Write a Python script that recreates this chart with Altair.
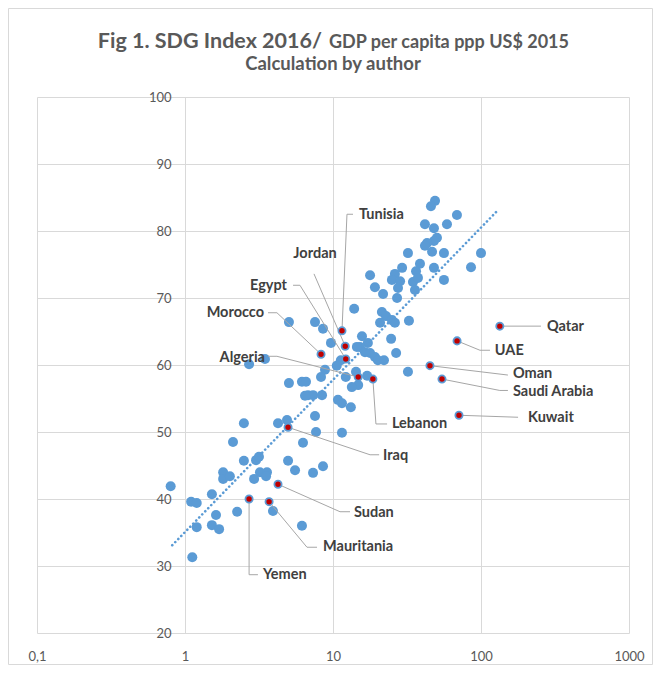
import altair as alt
import pandas as pd

# ---------------- data ----------------
# GDP per capita ppp (thousand US$ 2015) and SDG Index 2016, non-Arab countries
other_gdp = [48.9, 45.9, 68.8, 41.8, 48.1, 58.9, 50.4, 48.1, 43.2, 41.8, 46.7, 56.2, 100, 32.1, 85.6,
             48.1, 38.7, 36.4, 29.3, 26.2, 17.8, 19.2, 21.8, 25.0, 28.4, 27.5, 34.7, 37.5, 35.8, 56.2, 27.1,
             13.9, 21.4, 22.8, 25.0, 20.8, 26.2, 32.6, 5.04, 7.56, 8.56, 15.7, 24.7, 17.2, 15.2, 9.69, 14.5,
             16.45, 17.8, 19.2, 20.1, 22.1, 26.7, 11.3, 10.6, 3.47, 2.71, 8.83, 8.30, 5.04, 6.17, 6.57, 12.2,
             14.3, 17.0, 14.8, 13.4, 6.78, 7.33, 8.43, 6.47, 10.8, 11.5, 13.2, 7.56, 32.1,
             2.50, 4.25, 4.89, 7.68, 11.5, 2.11, 6.27, 2.50, 3.02, 3.16, 4.97, 5.54, 7.33, 8.56, 1.81, 1.81,
             2.01, 3.21, 3.58, 3.53, 2.93, 0.80, 1.52, 1.10, 1.20, 3.93, 2.25, 1.62, 1.20, 1.52, 1.70, 6.17, 1.12]
other_sdg = [84.5, 83.7, 82.4, 81.0, 80.4, 81.0, 79.0, 78.5, 78.2, 77.8, 76.9, 76.7, 76.7, 76.7, 74.6,
             74.5, 75.1, 74.0, 74.5, 73.6, 73.4, 71.6, 70.6, 72.7, 72.5, 71.5, 72.4, 73.0, 71.2, 72.7, 70.0,
             68.4, 67.9, 67.3, 66.7, 66.3, 66.3, 66.6, 66.4, 66.4, 65.4, 64.3, 63.9, 63.3, 62.7, 63.3, 62.7,
             61.9, 61.8, 61.2, 60.7, 60.7, 61.8, 60.7, 59.9, 60.9, 60.1, 59.3, 58.2, 57.3, 57.5, 57.5, 58.2,
             59.0, 58.4, 57.0, 56.7, 55.5, 55.5, 55.5, 55.4, 54.8, 54.3, 53.7, 52.4, 59.0,
             51.3, 51.3, 51.8, 50.0, 49.9, 48.5, 48.4, 45.7, 45.8, 46.3, 45.7, 44.3, 43.9, 44.9, 44.0, 43.0,
             43.4, 44.0, 44.0, 43.4, 43.0, 41.9, 40.7, 39.6, 39.4, 38.2, 38.1, 37.6, 35.8, 36.1, 35.5, 36.0, 31.3]

# Arab countries (highlighted)
arab_names = ["Tunisia", "Jordan", "Egypt", "Morocco", "Algeria", "Lebanon", "Iraq", "Sudan",
              "Mauritania", "Yemen", "Qatar", "UAE", "Oman", "Saudi Arabia", "Kuwait"]
arab_gdp = [11.5, 12.1, 12.2, 8.3, 14.8, 18.6, 4.97, 4.25, 3.7, 2.71, 134, 68.9, 45.2, 54.5, 71]
arab_sdg = [65.1, 62.8, 60.9, 61.6, 58.2, 57.9, 50.7, 42.2, 39.6, 40.0, 65.8, 63.6, 59.9, 57.9, 52.5]

# data-label anchors (in data units) and alignment
label_gdp = [14.98, 7.56, 4.89, 3.42, 3.47, 25.0, 21.8, 13.87, 8.56, 3.37, 279, 124, 164.5, 164.5, 208]
label_sdg = [82.4, 76.6, 71.8, 67.8, 61.0, 51.2, 46.4, 37.9, 32.8, 28.6, 65.7, 62.1, 58.6, 55.95, 52.1]
label_align = ["left", "center", "right", "right", "right", "left", "left", "left",
               "left", "left", "left", "left", "left", "left", "left"]

# leader lines: dot -> bend -> end (data units)
bend_gdp = [12.43, 7.44, 5.98, 4.18, 4.18, 19.5, 17.8, 11.15, 6.67, 2.71, 254, 98.4, 152, 134, 178]
bend_sdg = [82.5, 73.6, 71.9, 67.8, 61.3, 51.2, 46.6, 38.1, 32.8, 28.7, 65.8, 62.2, 58.5, 56.2, 52.2]
end_gdp = [13.65, 7.44, 5.37, 3.64, 3.64, 23.2, 20.5, 13.03, 7.80, 3.11, 254, 115, 152, 152, 178]
end_sdg = [82.5, 73.6, 71.9, 67.8, 61.3, 51.2, 46.6, 38.1, 32.8, 28.7, 65.8, 62.2, 58.5, 56.2, 52.2]

# logarithmic trend line end points
trend_gdp = [0.82, 130]
trend_sdg = [33.1, 83.1]

x_ticks = [0.1, 1, 10, 100, 1000]
y_ticks = [20, 30, 40, 50, 60, 70, 80, 90, 100]

# ---------------- tables ----------------
others = pd.DataFrame({"gdp": other_gdp, "sdg": other_sdg})
arab = pd.DataFrame({"name": arab_names, "gdp": arab_gdp, "sdg": arab_sdg})
labels = pd.DataFrame({"name": arab_names, "gdp": label_gdp, "sdg": label_sdg, "align": label_align})
rows = []
for i, n in enumerate(arab_names):
    rows.append({"name": n, "o": 0, "gdp": arab_gdp[i], "sdg": arab_sdg[i]})
    rows.append({"name": n, "o": 1, "gdp": bend_gdp[i], "sdg": bend_sdg[i]})
    rows.append({"name": n, "o": 2, "gdp": end_gdp[i], "sdg": end_sdg[i]})
leaders = pd.DataFrame(rows)
trend = pd.DataFrame({"gdp": trend_gdp, "sdg": trend_sdg})

# ---------------- styling ----------------
BLUE = "#5B9BD5"
RED = "#C00000"
GRID = "#D9D9D9"
TXT = "#595959"
FONT = "Lato"

xs = alt.Scale(type="log", domain=[0.1, 1000], nice=False)
ys = alt.Scale(domain=[20, 100], nice=False)
x_axis = alt.Axis(values=x_ticks, grid=True, gridColor=GRID, domain=False, ticks=False,
                  labelPadding=17, labelFont=FONT, labelFontSize=13, labelColor=TXT,
                  labelExpr="datum.value == 0.1 ? '0,1' : format(datum.value, 'd')",
                  labelFlush=False, labelOverlap=False)
y_axis = alt.Axis(values=y_ticks, grid=True, gridColor=GRID, domain=False, ticks=False,
                  offset=-148, labelPadding=14, labelFont=FONT, labelFontSize=13, labelColor=TXT,
                  labelFlush=False, labelOverlap=False)


def X():
    return alt.X("gdp:Q", scale=xs, axis=x_axis, title=None)


def Y():
    return alt.Y("sdg:Q", scale=ys, axis=y_axis, title=None)


pts = alt.Chart(others).mark_circle(size=100, color=BLUE, opacity=1).encode(x=X(), y=Y())

trend_line = alt.Chart(trend).mark_line(color=BLUE, strokeWidth=2.6, strokeDash=[0.1, 4.2],
                                       strokeCap="round").encode(x=X(), y=Y())

lead = alt.Chart(leaders).mark_line(color="#A6A6A6", strokeWidth=1).encode(
    x=X(), y=Y(), detail="name:N", order="o:Q")

arab_dots = alt.Chart(arab).mark_circle(size=52, fill=RED, stroke=BLUE, strokeWidth=1.8,
                                        opacity=1).encode(x=X(), y=Y())

lab_layers = []
for al in ["left", "center", "right"]:
    lab_layers.append(
        alt.Chart(labels[labels["align"] == al]).mark_text(
            align=al, baseline="middle", font=FONT, fontSize=14.5, fontWeight="bold", color="#404040"
        ).encode(x=X(), y=Y(), text="name:N")
    )

title_df = pd.DataFrame({"a": [0]})
t1 = alt.Chart(title_df).mark_text(text="Fig 1. SDG Index 2016/", align="right", baseline="alphabetic",
                                   font=FONT, fontSize=21.5, fontWeight="bold", color=TXT).encode(
    x=alt.value(285), y=alt.value(-49))
t2 = alt.Chart(title_df).mark_text(text="GDP per capita ppp US$ 2015", align="left", baseline="alphabetic",
                                   font=FONT, fontSize=18, fontWeight="bold", color=TXT).encode(
    x=alt.value(292), y=alt.value(-49))
t3 = alt.Chart(title_df).mark_text(text="Calculation by author", align="center", baseline="alphabetic",
                                   font=FONT, fontSize=18.5, fontWeight="bold", color=TXT).encode(
    x=alt.value(296), y=alt.value(-27))
frame = alt.Chart(title_df).mark_rect(fill="transparent", stroke=GRID, strokeWidth=1).encode(
    x=alt.value(-28.5), x2=alt.value(615.5), y=alt.value(-88.5), y2=alt.value(567.5))

chart = alt.layer(
    pts, trend_line, lead, arab_dots, *lab_layers, t1, t2, t3, frame
).properties(
    width=592, height=536,
    autosize=alt.AutoSizeParams(type="none"),
    padding={"left": 29, "top": 89, "right": 24, "bottom": 32},
    background="white",
).configure_view(stroke="transparent")

chart.save("out.html", embed_options={"renderer": "svg", "actions": False})
